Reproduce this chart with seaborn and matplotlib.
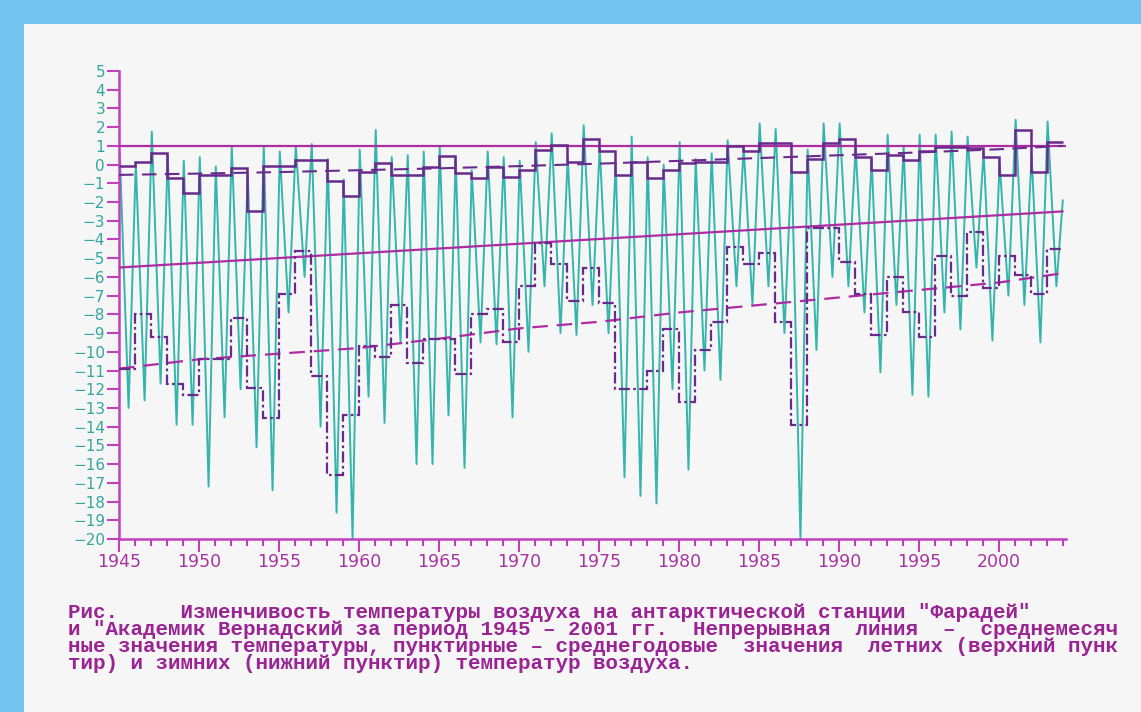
"""Faraday / Vernadsky station air temperature, 1945-2004, redrawn."""

import matplotlib

matplotlib.use("Agg")
import matplotlib.pyplot as plt
import numpy as np
import pandas as pd
import seaborn as sns
from matplotlib.patches import Rectangle
from matplotlib.ticker import MultipleLocator

sns.set_theme(style="white")
plt.rcParams["font.family"] = ["DejaVu Sans"]

FIG_W, FIG_H, DPI = 1141, 712, 100

BORDER_BLUE = "#74C2EE"
PANEL_GREY = "#F6F6F6"
AXIS_MAGENTA = "#C23FBF"
MONTHLY_TEAL = "#35B5AC"
STEP_PURPLE = "#6A2A8C"
TREND_MAGENTA = "#AE2CA2"
CAPTION_PURPLE = "#9A2494"

# one value per year 1945..2003
YEARS = list(range(1945, 2004))

# warmest month (January) of each year, then coldest winter month
SUMMER_PEAK = [
    0.6, 0.1, 1.76, 0.5, 0.2, 0.4, -0.1, 1.0, -0.5, 1.0,
    0.7, 1.0, 1.1, 0.3, -0.8, 0.8, 1.85, 0.4, 0.5, 0.7,
    1.0, 0.4, -0.3, 0.7, 0.4, 0.2, 1.2, 1.67, 0.4, 2.1,
    0.95, 0.1, 1.5, 0.4, 0.0, 1.2, 0.3, 0.6, 1.3, 0.95,
    2.2, 1.9, 0.2, 0.8, 2.2, 2.2, 0.9, 0.3, 1.6, 1.0,
    1.6, 1.6, 1.76, 1.5, 0.7, 0.1, 2.4, 0.5, 2.3,
]
WINTER_TROUGH = [
    -13.0, -12.6, -11.7, -13.9, -13.9, -17.2, -13.5, -12.0, -15.1, -17.4,
    -7.9, -6.0, -14.0, -18.6, -20.0, -12.4, -13.8, -9.5, -16.0, -16.0,
    -13.4, -16.2, -9.5, -9.6, -13.5, -10.0, -6.5, -9.0, -9.1, -7.5,
    -9.0, -16.7, -17.7, -18.1, -12.0, -16.3, -11.0, -11.5, -6.5, -7.5,
    -6.5, -9.0, -20.0, -9.9, -6.0, -6.5, -7.9, -11.1, -7.5, -12.3,
    -12.4, -7.9, -8.8, -5.5, -9.4, -7.0, -7.5, -9.5, -6.5,
]
LAST_MONTH_YEAR = 2004.0
LAST_MONTH_VALUE = -1.9

# annual means of summer (upper step) and winter (lower step) temperature
SUMMER_MEAN = [
    -0.1, 0.15, 0.62, -0.7, -1.5, -0.55, -0.55, -0.2, -2.5, -0.1,
    -0.1, 0.25, 0.25, -0.9, -1.7, -0.4, 0.1, -0.55, -0.55, -0.15,
    0.45, -0.46, -0.72, -0.15, -0.66, -0.3, 0.77, 1.05, 0.13, 1.37,
    0.7, -0.55, 0.15, -0.7, -0.3, 0.1, 0.15, 0.15, 1.0, 0.7,
    1.15, 1.15, -0.4, 0.3, 1.15, 1.35, 0.4, -0.3, 0.5, 0.25,
    0.75, 0.95, 0.95, 0.9, 0.4, -0.55, 1.85, -0.4, 1.2,
]
WINTER_MEAN = [
    -10.9, -8.0, -9.2, -11.7, -12.3, -10.4, -10.4, -8.2, -11.95, -13.55,
    -6.9, -4.6, -11.3, -16.6, -13.4, -9.7, -10.3, -7.5, -10.6, -9.3,
    -9.3, -11.2, -8.0, -7.7, -9.5, -6.5, -4.2, -5.3, -7.3, -5.5,
    -7.4, -12.0, -12.0, -11.0, -8.8, -12.7, -9.9, -8.4, -4.4, -5.3,
    -4.7, -8.4, -13.9, -3.4, -3.4, -5.2, -6.9, -9.1, -6.0, -7.9,
    -9.2, -4.9, -7.0, -3.6, -6.6, -4.9, -5.9, -6.9, -4.5,
]

# straight and smoothed trend lines
SUMMER_LEVEL = 1.0
TREND_YEARS = [1945, 2004]
ANNUAL_TREND = [-5.5, -2.5]
CURVE_YEARS = [1945, 1950, 1955, 1960, 1965, 1970, 1975, 1980, 1985, 1990, 1995, 2000, 2004]
SUMMER_TREND = [-0.55, -0.48, -0.4, -0.3, -0.2, -0.08, 0.05, 0.2, 0.35, 0.5, 0.65, 0.82, 1.0]
WINTER_TREND = [-10.9, -10.4, -10.1, -9.8, -9.3, -8.75, -8.4, -7.9, -7.5, -7.1, -6.7, -6.3, -5.8]

CAPTION_LINES = [
    'Рис.     Изменчивость температуры воздуха на антарктической станции "Фарадей"',
    'и "Академик Вернадский за период 1945 – 2001 гг.  Непрерывная  линия  –  среднемесяч',
    'ные значения температуры, пунктирные – среднегодовые  значения  летних (верхний пунк',
    'тир) и зимних (нижний пунктир) температур воздуха.',
]


def _px_x(px: float) -> float:
    return px / FIG_W


def _px_y(px: float) -> float:
    """Figure fraction for a pixel row counted from the top."""
    return 1 - px / FIG_H


# monthly zig-zag: January peak followed by the winter minimum of each year
month_t, month_v = [], []
for year, peak, trough in zip(YEARS, SUMMER_PEAK, WINTER_TROUGH):
    month_t += [year + 0.05, year + 0.6]
    month_v += [peak, trough]
month_t.append(LAST_MONTH_YEAR)
month_v.append(LAST_MONTH_VALUE)
monthly = pd.DataFrame({"year": month_t, "temp": month_v})

edges = np.append(YEARS, YEARS[-1] + 1)

fig = plt.figure(figsize=(FIG_W / DPI, FIG_H / DPI), dpi=DPI)
fig.patch.set_facecolor(BORDER_BLUE)
fig.add_artist(Rectangle((_px_x(24), 0), 1, _px_y(24), transform=fig.transFigure,
                         facecolor=PANEL_GREY, edgecolor="none", zorder=0))

left, right, top, bottom = 119, 1066, 71, 539
ax = fig.add_axes([_px_x(left), _px_y(bottom), _px_x(right - left), (bottom - top) / FIG_H])
ax.set_facecolor("none")

sns.lineplot(data=monthly, x="year", y="temp", sort=False, estimator=None,
             color=MONTHLY_TEAL, linewidth=1.4, ax=ax, zorder=2)

ax.stairs(SUMMER_MEAN, edges, baseline=None, color=STEP_PURPLE, linewidth=1.8, zorder=4)
ax.stairs(WINTER_MEAN, edges, baseline=None, color=STEP_PURPLE, linewidth=1.6,
          linestyle=(0, (5, 1.5, 1.2, 1.5)), zorder=4)

ax.axhline(SUMMER_LEVEL, color=TREND_MAGENTA, linewidth=1.6, zorder=3)
ax.plot(TREND_YEARS, ANNUAL_TREND, color=TREND_MAGENTA, linewidth=1.6, zorder=3)
ax.plot(CURVE_YEARS, SUMMER_TREND, color=STEP_PURPLE, linewidth=1.5,
        linestyle=(0, (7, 4)), zorder=3)
ax.plot(CURVE_YEARS, WINTER_TREND, color=TREND_MAGENTA, linewidth=1.6,
        linestyle=(0, (7, 4)), zorder=3)

ax.set_xlim(1945, 2004.2)
ax.set_ylim(-20, 5)
ax.xaxis.set_major_locator(MultipleLocator(5))
ax.xaxis.set_minor_locator(MultipleLocator(1))
ax.yaxis.set_major_locator(MultipleLocator(1))
ax.set_xlabel("")
ax.set_ylabel("")

for side in ("top", "right"):
    ax.spines[side].set_visible(False)
for side in ("left", "bottom"):
    ax.spines[side].set_color(AXIS_MAGENTA)
    ax.spines[side].set_linewidth(1.8)

ax.tick_params(which="both", bottom=True, left=True, direction="out",
               color=AXIS_MAGENTA, width=1.5)
ax.tick_params(axis="x", which="major", length=9, pad=1, labelsize=12.5,
               labelcolor="#A8359F")
ax.tick_params(axis="x", which="minor", length=5)
ax.tick_params(axis="y", which="major", length=9, pad=1, labelsize=11,
               labelcolor="#33A6A2")

# the caption is one paragraph, set as a single block of text
fig.text(_px_x(68), _px_y(603), "\n".join(CAPTION_LINES),
         family=["Liberation Mono", "DejaVu Sans Mono"], fontsize=15,
         fontweight="bold", color=CAPTION_PURPLE, va="top", ha="left",
         linespacing=0.86)

fig.savefig("out.png", dpi=DPI, facecolor=fig.get_facecolor())
